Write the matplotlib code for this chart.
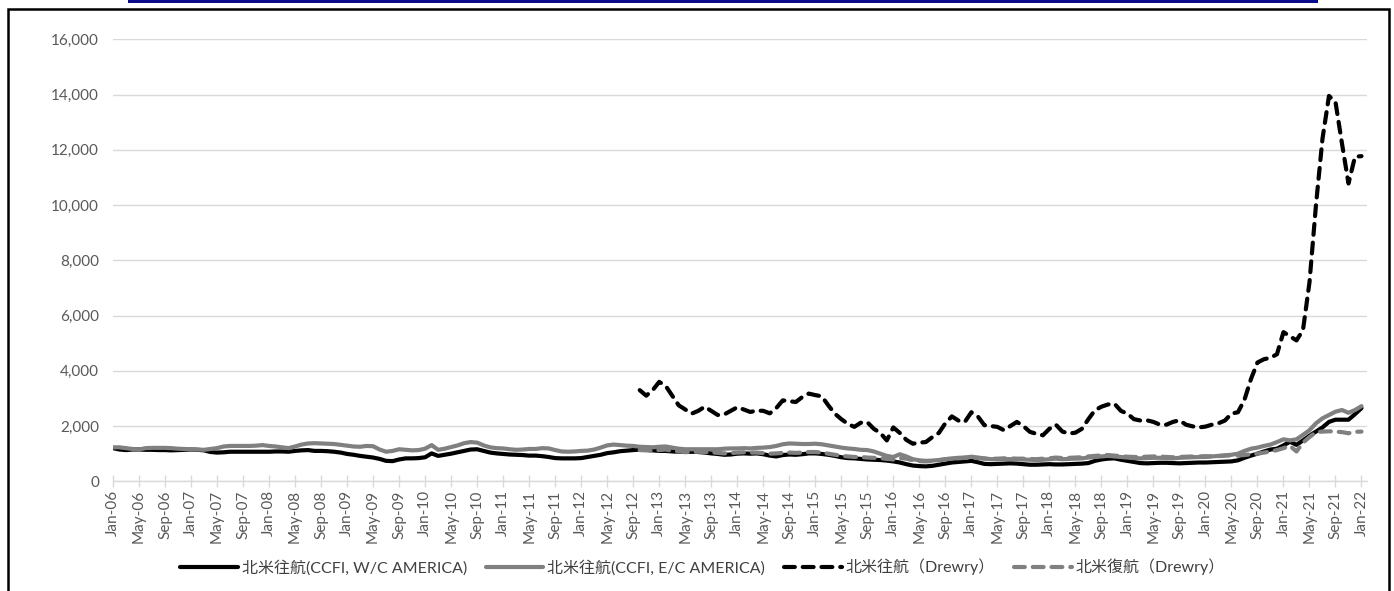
import numpy as np
import pandas as pd
import matplotlib
matplotlib.use("Agg")
import matplotlib.pyplot as plt
from matplotlib.patches import Rectangle

plt.rcParams['font.family'] = ['Lato', 'Noto Sans CJK JP', 'DejaVu Sans']

# ---------------- data ----------------
months = pd.date_range("2006-01-01", "2022-01-01", freq="MS")
tick_labels = [d.strftime("%b-%y") for d in months[::4]]

ccfi_wc = [
    1200, 1150, 1130, 1150, 1150, 1140, 1140, 1130, 1130, 1120, 1130, 1140,   # 2006
    1150, 1140, 1120, 1060, 1040, 1050, 1070, 1070, 1070, 1070, 1070, 1070,   # 2007
    1070, 1080, 1080, 1070, 1100, 1120, 1130, 1100, 1100, 1090, 1070, 1040,   # 2008
    990, 960, 920, 890, 860, 810, 740, 730, 790, 830, 830, 840,               # 2009
    870, 1010, 920, 960, 1000, 1050, 1100, 1150, 1160, 1100, 1040, 1010,      # 2010
    990, 970, 960, 950, 930, 930, 910, 880, 840, 830, 830, 830,               # 2011
    840, 880, 920, 960, 1020, 1050, 1090, 1110, 1130, 1150, 1140, 1120,       # 2012
    1100, 1100, 1080, 1070, 1060, 1070, 1060, 1040, 1010, 990, 960, 970,      # 2013
    1000, 1010, 1000, 1010, 980, 930, 900, 950, 970, 960, 980, 1010,          # 2014
    1010, 990, 960, 920, 870, 840, 830, 810, 790, 780, 770, 750,              # 2015
    720, 680, 620, 570, 550, 540, 560, 600, 640, 680, 700, 720,               # 2016
    740, 690, 630, 620, 630, 640, 650, 640, 620, 600, 600, 610,               # 2017
    620, 610, 610, 620, 630, 640, 660, 740, 790, 820, 830, 780,               # 2018
    740, 700, 660, 650, 660, 670, 670, 660, 650, 660, 670, 680,               # 2019
    680, 690, 700, 710, 720, 760, 850, 930, 1000, 1080, 1150, 1180,           # 2020
    1300, 1430, 1320, 1480, 1650, 1800, 1950, 2150, 2230, 2230, 2230, 2430,   # 2021
    2650,                                                                     # 2022
]

ccfi_ec = [
    1230, 1230, 1200, 1170, 1150, 1200, 1210, 1210, 1210, 1200, 1180, 1170,   # 2006
    1160, 1150, 1140, 1170, 1200, 1260, 1280, 1280, 1280, 1280, 1290, 1310,   # 2007
    1280, 1260, 1230, 1200, 1260, 1330, 1370, 1380, 1370, 1360, 1350, 1320,   # 2008
    1290, 1260, 1250, 1280, 1270, 1150, 1070, 1100, 1160, 1140, 1120, 1130,   # 2009
    1180, 1310, 1140, 1180, 1240, 1300, 1380, 1420, 1400, 1300, 1230, 1200,   # 2010
    1190, 1160, 1140, 1150, 1170, 1170, 1200, 1190, 1130, 1080, 1070, 1080,   # 2011
    1100, 1110, 1150, 1220, 1300, 1330, 1310, 1290, 1280, 1250, 1240, 1230,   # 2012
    1250, 1260, 1220, 1180, 1160, 1160, 1160, 1160, 1160, 1160, 1180, 1190,   # 2013
    1190, 1200, 1190, 1210, 1220, 1240, 1280, 1340, 1370, 1360, 1350, 1350,   # 2014
    1360, 1340, 1300, 1260, 1220, 1190, 1170, 1140, 1130, 1080, 1000, 920,    # 2015
    880, 980, 900, 800, 760, 740, 750, 770, 800, 830, 850, 860,               # 2016
    890, 860, 830, 800, 800, 810, 800, 800, 790, 780, 770, 780,               # 2017
    800, 820, 800, 810, 820, 830, 860, 880, 900, 920, 900, 880,               # 2018
    860, 840, 830, 840, 850, 850, 840, 830, 850, 860, 870, 880,               # 2019
    880, 900, 920, 940, 960, 1000, 1100, 1180, 1220, 1280, 1330, 1420,        # 2020
    1520, 1480, 1520, 1680, 1850, 2100, 2280, 2400, 2520, 2580, 2480, 2580,   # 2021
    2720,                                                                     # 2022
]

drewry_start = 81  # Oct-12 (index into months)
drewry_out = [
    3300, 3100, 3300,                                                         # 2012 Oct-Dec
    3600, 3450, 3100, 2750, 2600, 2450, 2550, 2700, 2550, 2400, 2420, 2550,   # 2013
    2680, 2600, 2510, 2560, 2550, 2460, 2650, 2930, 2900, 2870, 3050, 3175,   # 2014
    3120, 3077, 2750, 2450, 2250, 2080, 1970, 2120, 2140, 1900, 1750, 1480,   # 2015
    1950, 1750, 1500, 1360, 1400, 1420, 1600, 1750, 2100, 2350, 2200, 2150,   # 2016
    2500, 2350, 2030, 2000, 1970, 1850, 2000, 2150, 2000, 1790, 1720, 1665,   # 2017
    1900, 2050, 1800, 1730, 1760, 1900, 2250, 2570, 2700, 2780, 2810, 2550,   # 2018
    2450, 2250, 2200, 2208, 2150, 2050, 2050, 2150, 2208, 2050, 1990, 1950,   # 2019
    1980, 2050, 2100, 2200, 2450, 2500, 2950, 3700, 4300, 4420, 4470, 4600,   # 2020
    5400, 5250, 5100, 5470, 7200, 10000, 12400, 13950, 13730, 12225, 10780, 11750,  # 2021
    11770,                                                                    # 2022
]
drewry_in = [
    1130, 1120, 1100,                                                         # 2012 Oct-Dec
    1130, 1150, 1100, 1080, 1060, 1060, 1070, 1060, 1050, 1030, 1010, 1020,   # 2013
    1040, 1050, 1040, 1040, 1020, 1000, 1010, 1030, 1040, 1030, 1040, 1060,   # 2014
    1060, 1040, 1000, 960, 920, 900, 880, 880, 860, 850, 840, 810,            # 2015
    790, 840, 820, 760, 730, 720, 730, 760, 800, 820, 830, 850,               # 2016
    860, 840, 820, 810, 820, 830, 830, 820, 820, 810, 800, 820,               # 2017
    830, 860, 840, 850, 860, 870, 900, 920, 940, 950, 930, 910,               # 2018
    890, 880, 880, 890, 900, 900, 880, 870, 880, 890, 900, 900,               # 2019
    910, 900, 910, 930, 940, 930, 950, 980, 1000, 1040, 1080, 1130,           # 2020
    1200, 1280, 1080, 1400, 1600, 1780, 1800, 1810, 1800, 1780, 1740, 1790,   # 2021
    1800,                                                                     # 2022
]

series_names = ["北米往航(CCFI, W/C AMERICA)", "北米往航(CCFI, E/C AMERICA)",
                "北米往航（Drewry）", "北米復航（Drewry）"]

# ---------------- figure ----------------
W, H = 1394, 591
fig = plt.figure(figsize=(W / 100, H / 100), dpi=100)

ax_left, ax_right = 113 / W, 1366.5 / W
ax_bottom, ax_top = 1 - 481.3 / H, 1 - 39.3 / H
ax = fig.add_axes([ax_left, ax_bottom, ax_right - ax_left, ax_top - ax_bottom])

x_all = np.arange(len(months))
x_dr = np.arange(drewry_start, drewry_start + len(drewry_out))

BLACK = "#000000"
GRAY = "#808080"
lw = 3.0

l1, = ax.plot(x_all, ccfi_wc, color=BLACK, lw=lw, solid_capstyle="round", solid_joinstyle="round", zorder=3)
l2, = ax.plot(x_all, ccfi_ec, color=GRAY, lw=lw, solid_capstyle="round", solid_joinstyle="round", zorder=3)
l3, = ax.plot(x_dr, drewry_out, color=BLACK, lw=lw, linestyle=(0, (2.6, 1.9)),
              dash_capstyle="round", zorder=4)
l4, = ax.plot(x_dr, drewry_in, color=GRAY, lw=lw, linestyle=(0, (2.6, 1.9)),
              dash_capstyle="round", zorder=5)

ax.set_xlim(0, (1366.5 - 113.5) / 6.5)
ax.set_ylim(0, 16000)
ax.set_yticks(np.arange(0, 16001, 2000))
ax.set_yticklabels([f"{v:,}" for v in range(0, 16001, 2000)])
ax.set_xticks(x_all[::4])
ax.set_xticklabels(tick_labels, rotation=90)

ax.grid(axis="y", color="#D9D9D9", lw=1.0)
ax.set_axisbelow(True)
for s in ["top", "right", "left"]:
    ax.spines[s].set_visible(False)
ax.spines["bottom"].set_color("#D9D9D9")
ax.spines["bottom"].set_linewidth(1.0)

ax.tick_params(axis="y", length=0, pad=10, labelsize=11, labelcolor="#595959")
ax.tick_params(axis="x", direction="inout", length=9, width=1.0, color="#D9D9D9",
               pad=2, labelsize=11, labelcolor="#595959")

leg = fig.legend([l1, l2, l3, l4], series_names, loc="center",
                 bbox_to_anchor=(0.504, 1 - 567 / H), ncol=4, frameon=False,
                 fontsize=11.5, handlelength=3.6, columnspacing=1.2, handletextpad=0.25,
                 labelcolor="#404040")

# outer frame and top blue bar
fig.patches.append(Rectangle((7.5 / W, -0.05), (1389 - 7.5) / W, 1 - 8.5 / H + 0.05,
                             transform=fig.transFigure, fill=False, edgecolor="black",
                             lw=1.8, zorder=10))
fig.patches.append(Rectangle((128 / W, 1 - 3 / H), (1318 - 128) / W, 3 / H,
                             transform=fig.transFigure, facecolor="#0A0A8C",
                             edgecolor="none", zorder=10))

fig.savefig("out.png", dpi=100)
